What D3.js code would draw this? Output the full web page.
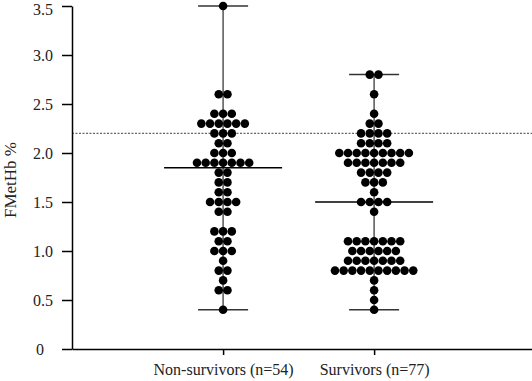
<!DOCTYPE html>
<html>
<head>
<meta charset="utf-8">
<script src="https://cdn.jsdelivr.net/npm/d3@7"></script>
<style>
  body { margin: 0; background: #fff; overflow: hidden; }
  svg { display: block; }
  text { font-family: "Liberation Serif", "Times New Roman", serif; }
</style>
</head>
<body>
<script>
var w = 532;
var h = 381;

var groups = ["Non-survivors (n=54)", "Survivors (n=77)"];

// FMetHb levels and how many patients sit at each level
var nonSurvLevels = [3.5, 2.6, 2.4, 2.3, 2.2, 2.1, 2.0, 1.9, 1.8, 1.7, 1.6, 1.5, 1.4, 1.2, 1.1, 1.0, 0.9, 0.8, 0.7, 0.6, 0.4];
var nonSurvCounts = [1, 2, 3, 6, 3, 2, 3, 7, 2, 2, 2, 4, 2, 3, 2, 3, 1, 2, 1, 2, 1];
var survLevels = [2.8, 2.6, 2.4, 2.3, 2.2, 2.1, 2.0, 1.9, 1.8, 1.7, 1.6, 1.5, 1.4, 1.1, 1.0, 0.9, 0.8, 0.7, 0.6, 0.5, 0.4];
var survCounts = [2, 1, 1, 2, 4, 4, 9, 7, 4, 3, 1, 4, 1, 7, 6, 7, 10, 1, 1, 1, 1];

var yTicks = [0, 0.5, 1.0, 1.5, 2.0, 2.5, 3.0, 3.5];
var cutoff = 2.2;

var levels = [nonSurvLevels, survLevels];
var counts = [nonSurvCounts, survCounts];

var xScale = d3.scalePoint()
  .domain(groups)
  .range([72, w])
  .padding(1.023)
  .align(0.489);

var yScale = d3.scaleLinear()
  .domain([0, 3.5])
  .range([349, 6]);

var svg = d3.select("body")
  .append("svg")
  .attr("width", w)
  .attr("height", h);

var dotR = 4.3;
var dotStep = 8.7;

// cutoff line
svg.append("line")
  .attr("x1", 72)
  .attr("x2", w)
  .attr("y1", yScale(cutoff))
  .attr("y2", yScale(cutoff))
  .attr("stroke", "#666")
  .attr("stroke-width", 1.2)
  .attr("stroke-dasharray", "2,1.5");

groups.forEach(function(g, gi) {
  var cx = xScale(g);
  var all = [];
  levels[gi].forEach(function(v, i) {
    for (var k = 0; k < counts[gi][i]; k++) all.push(v);
  });
  var ext = d3.extent(all);
  var med = d3.median(all);

  // min-max line
  svg.append("line")
    .attr("x1", cx).attr("x2", cx)
    .attr("y1", yScale(ext[0])).attr("y2", yScale(ext[1]))
    .attr("stroke", "#555")
    .attr("stroke-width", 1.5);

  // whiskers
  ext.forEach(function(v) {
    svg.append("line")
      .attr("x1", cx - 25).attr("x2", cx + 25)
      .attr("y1", yScale(v)).attr("y2", yScale(v))
      .attr("stroke", "#333")
      .attr("stroke-width", 1.5);
  });

  // dots
  var dots = [];
  levels[gi].forEach(function(v, i) {
    var n = counts[gi][i];
    for (var k = 0; k < n; k++) {
      dots.push({ v: v, off: (k - (n - 1) / 2) * dotStep });
    }
  });
  svg.selectAll("circle.g" + gi)
    .data(dots)
    .enter()
    .append("circle")
    .attr("class", "g" + gi)
    .attr("cx", function(d) { return cx + d.off; })
    .attr("cy", function(d) { return yScale(d.v); })
    .attr("r", dotR)
    .attr("fill", "#000");

  // median
  svg.append("line")
    .attr("x1", cx - 59).attr("x2", cx + 59)
    .attr("y1", yScale(med)).attr("y2", yScale(med))
    .attr("stroke", "#000")
    .attr("stroke-width", 1.5);
});

// Y axis
var yAxis = d3.axisLeft(yScale)
  .tickValues(yTicks)
  .tickFormat(function(d) { return d === 0 ? "0" : d3.format(".1f")(d); })
  .tickSize(10)
  .tickSizeOuter(0);

var gy = svg.append("g")
  .attr("transform", "translate(72,0)")
  .call(yAxis);
gy.select(".domain").attr("stroke", "#000").attr("stroke-width", 1.5);
gy.selectAll(".tick line").attr("stroke", "#000").attr("stroke-width", 1.5);
gy.selectAll(".tick text")
  .attr("font-size", 16)
  .attr("fill", "#222")
  .attr("x", function(d) { return d === 0 ? -28 : -19; })
  .attr("dy", function(d) { return d === 3.5 ? "0.55em" : "0.32em"; });

// X axis
var xAxis = d3.axisBottom(xScale)
  .tickSize(6)
  .tickSizeOuter(0);

var gx = svg.append("g")
  .attr("transform", "translate(0,349)")
  .call(xAxis);
gx.select(".domain").attr("stroke", "#000").attr("stroke-width", 1.5);
gx.selectAll(".tick line").attr("stroke", "#000").attr("stroke-width", 1.5);
gx.selectAll(".tick text")
  .attr("font-size", 16)
  .attr("fill", "#222")
  .attr("y", 15);

// Y label
svg.append("text")
  .attr("transform", "rotate(-90)")
  .attr("x", -180)
  .attr("y", 16)
  .attr("text-anchor", "middle")
  .attr("font-size", 17)
  .attr("fill", "#222")
  .text("FMetHb %");
</script>
</body>
</html>
